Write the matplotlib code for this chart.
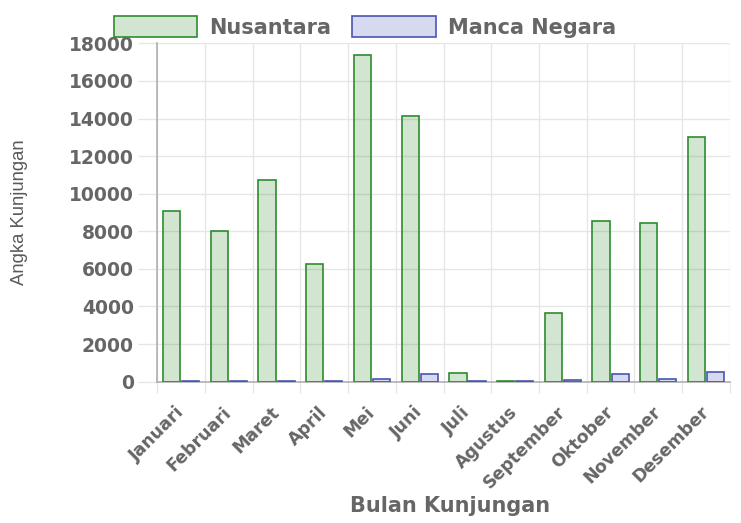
import matplotlib
matplotlib.use("Agg")
import matplotlib.pyplot as plt
from matplotlib.patches import Patch
import numpy as np

months = ["Januari", "Februari", "Maret", "April", "Mei", "Juni", "Juli",
          "Agustus", "September", "Oktober", "November", "Desember"]
nusantara = [9100, 8000, 10750, 6250, 17400, 14150, 440, 10, 3650, 8550, 8450, 13000]
manca_negara = [10, 10, 10, 10, 140, 390, 10, 10, 100, 390, 140, 530]
y_ticks = list(range(0, 18001, 2000))

TXT = "#666666"
GRID = "#e6e6e6"
AXIS = "#b0b0b0"
G_EDGE = "#2e8b2e"
G_FILL = (46/255, 139/255, 46/255, 0.22)
B_EDGE = "#4a55b5"
B_FILL = (74/255, 85/255, 181/255, 0.22)

fig = plt.figure(figsize=(7.41, 5.23), dpi=100)
ax = fig.add_axes([0.2123, 0.2702, 0.985 - 0.2123, 0.9172 - 0.2702])

x = np.arange(len(months))
ax.bar(x - 0.2, nusantara, width=0.36, color=G_FILL, edgecolor=G_EDGE, linewidth=1.2, zorder=3)
ax.bar(x + 0.2, manca_negara, width=0.36, color=B_FILL, edgecolor=B_EDGE, linewidth=1.2, zorder=3)

ax.set_xlim(-0.5, len(months) - 0.5)
ax.set_ylim(0, 18000)
ax.set_yticks(y_ticks)
ax.set_yticklabels([str(v) for v in y_ticks])
ax.set_xticks(x)
ax.set_xticklabels(months, rotation=45, ha="right", va="center", rotation_mode="anchor")
ax.set_xticks(np.arange(-0.5, len(months)), minor=True)

ax.tick_params(axis="x", which="major", length=0, pad=20, labelsize=12.5, labelcolor=TXT)
ax.tick_params(axis="x", which="minor", length=8, color=GRID, width=1)
ax.tick_params(axis="y", which="major", length=14, color=GRID, width=1, pad=3,
               labelsize=13.5, labelcolor=TXT)
for lab in ax.get_xticklabels() + ax.get_yticklabels():
    lab.set_fontweight("bold")
    lab.set_family("DejaVu Sans")

ax.grid(True, axis="y", color=GRID, linewidth=1, zorder=0)
ax.grid(True, axis="x", which="minor", color=GRID, linewidth=1, zorder=0)
ax.grid(False, axis="x", which="major")
ax.set_axisbelow(True)

for s in ["top", "right"]:
    ax.spines[s].set_visible(False)
for s in ["left", "bottom"]:
    ax.spines[s].set_color(AXIS)
    ax.spines[s].set_linewidth(1.2)

handles = [Patch(facecolor=G_FILL, edgecolor=G_EDGE, linewidth=1.2, label="Nusantara"),
           Patch(facecolor=B_FILL, edgecolor=B_EDGE, linewidth=1.2, label="Manca Negara")]
fig.legend(handles=handles, loc="center", bbox_to_anchor=(365/741, 1 - 27/523), ncol=2,
           frameon=False, handlelength=4.0, handleheight=1.15, handletextpad=0.6,
           columnspacing=1.0, prop={"family": "DejaVu Sans", "weight": "bold", "size": 15},
           labelcolor=TXT)

fig.text(20/741, 1 - 212/523, "Angka Kunjungan", rotation=90, ha="center", va="center",
         fontsize=13.3, color="#5a5a5a", family="Liberation Sans")
fig.text(450/741, 1 - 506/523, "Bulan Kunjungan", ha="center", va="center",
         fontsize=15, color=TXT, fontweight="bold", family="DejaVu Sans")

fig.savefig("out.png", dpi=100)
